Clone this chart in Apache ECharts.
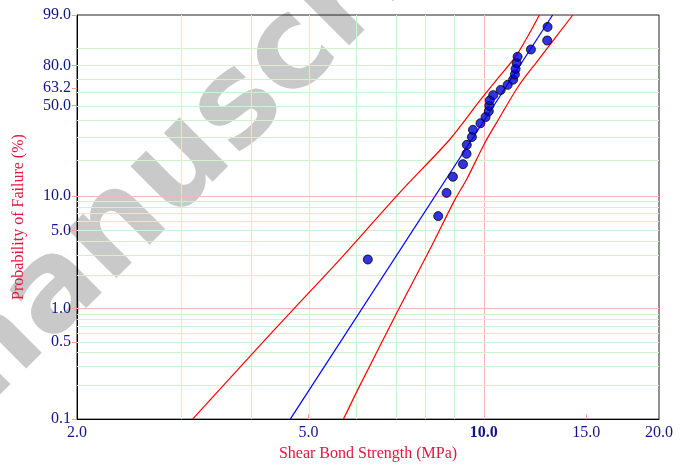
<!DOCTYPE html>
<html>
<head>
<meta charset="utf-8">
<script src="https://cdn.jsdelivr.net/npm/echarts@6/dist/echarts.min.js"></script>
<style>
  html, body { margin: 0; padding: 0; background: #fff; }
  #main { width: 692px; height: 467px; }
</style>
</head>
<body>
<div id="main"></div>
<script>
// shear bond strength (MPa) and median-rank failure probability (%)
const strength = [6.32, 8.35, 8.63, 8.85, 9.21, 9.34, 9.35, 9.54, 9.58, 9.87, 10.07, 10.20, 10.22,
  10.24, 10.38, 10.69, 10.99, 11.23, 11.31, 11.34, 11.39, 11.43, 12.05, 12.85, 12.87]
const failureProb = [2.76, 6.69, 10.63, 14.57, 18.50, 22.44, 26.38, 30.31, 34.25, 38.19, 42.13, 46.06, 50.00,
  53.94, 57.87, 61.81, 65.75, 69.69, 73.62, 77.56, 81.50, 85.43, 89.37, 93.31, 97.24]

// weibull fit and confidence bounds, [MPa, %]
const fitLine = [[4.65, 0.1], [13.13, 99]]
const upperBound = [[3.16, 0.1], [4.00, 0.39], [4.72, 1.0], [5.66, 2.77], [7.17, 10.7], [8.74, 29.0],
  [9.85, 53.9], [10.52, 69.6], [11.39, 86.5], [12.46, 99]]
const lowerBound = [[5.74, 0.1], [6.12, 0.2], [7.15, 1.0], [8.08, 3.4], [8.92, 9.3], [9.34, 13.8],
  [10.04, 27.3], [10.59, 40.4], [11.46, 64.5], [12.41, 83.6], [14.22, 99]]

const xTicks = [2, 5, 10, 15, 20]
const yTicks = [0.1, 0.5, 1, 5, 10, 50, 63.2, 80, 99]
const xGridGreen = [3, 4, 5, 6, 7, 8, 9]
const xGridRed = [10]
const yGridGreen = [0.2, 0.3, 0.4, 0.5, 0.6, 0.7, 0.8, 0.9, 2, 3, 4, 5, 6, 7, 8, 9,
  20, 30, 40, 50, 60, 70, 80, 90]
const yGridRed = [1, 10]

// axis transforms: log10 for x, weibull ln(-ln(1-F)) for y
const tx = v => Math.log10(v)
const ty = p => Math.log(-Math.log(1 - p / 100))
const fromX = v => Math.pow(10, v)
const fromY = w => (1 - Math.exp(-Math.exp(w))) * 100
const pt = ([x, p]) => [tx(x), ty(p)]

const serif = '"Liberation Serif", "Times New Roman", serif'
const green = '#cdf5cd'
const pink = '#ffb4b4'

const gridLines = [
  ...xGridGreen.map(v => ({ xAxis: tx(v), lineStyle: { color: green } })),
  ...xGridRed.map(v => ({ xAxis: tx(v), lineStyle: { color: pink } })),
  ...yGridGreen.map(v => ({ yAxis: ty(v), lineStyle: { color: green } })),
  ...yGridRed.map(v => ({ yAxis: ty(v), lineStyle: { color: pink } }))
]

const chart = echarts.init(document.getElementById('main'))
chart.setOption({
  animation: false,
  graphic: [{
    type: 'text',
    x: 216,
    y: 132,
    rotation: Math.PI / 4,
    z: -1,
    silent: true,
    style: {
      text: 'manuscript',
      font: 'bold 126px "DejaVu Sans", sans-serif',
      fill: '#c9c9c9',
      textAlign: 'center',
      textVerticalAlign: 'middle'
    }
  }],
  grid: {
    left: 77, right: 33, top: 15, bottom: 47,
    show: true, borderColor: '#222', borderWidth: 1, backgroundColor: 'transparent'
  },
  xAxis: {
    type: 'value',
    min: tx(2),
    max: tx(20),
    name: 'Shear Bond Strength (MPa)',
    nameLocation: 'middle',
    nameGap: 25,
    nameTextStyle: { color: '#e0183f', fontFamily: serif, fontSize: 16 },
    axisLine: { onZero: false, lineStyle: { color: '#000' } },
    axisTick: {
      show: true, inside: true, length: 5,
      customValues: [5, 15].map(tx),
      lineStyle: { color: '#ff9a9a' }
    },
    axisLabel: {
      customValues: xTicks.map(tx),
      color: '#14148a',
      fontFamily: serif,
      fontSize: 16,
      margin: 6,
      formatter: v => {
        const s = fromX(v).toFixed(1)
        return s === '10.0' ? '{b|' + s + '}' : s
      },
      rich: { b: { fontWeight: 'bold', color: '#14148a', fontFamily: serif, fontSize: 16 } }
    },
    splitLine: { show: false }
  },
  yAxis: {
    type: 'value',
    min: ty(0.1),
    max: ty(99),
    name: 'Probability of Failure (%)',
    nameLocation: 'middle',
    nameGap: 50,
    nameTextStyle: { color: '#e0183f', fontFamily: serif, fontSize: 16 },
    axisLine: { show: true, onZero: false, lineStyle: { color: '#000' } },
    axisTick: {
      show: true, length: 5,
      customValues: yTicks.map(ty),
      lineStyle: { color: '#ff9a9a' }
    },
    axisLabel: {
      customValues: yTicks.map(ty),
      color: '#14148a',
      fontFamily: serif,
      fontSize: 16,
      margin: 6,
      formatter: v => fromY(v).toFixed(1)
    },
    splitLine: { show: false }
  },
  series: [
    {
      type: 'line',
      data: [],
      z: 1,
      silent: true,
      markLine: {
        z: 1,
        silent: true,
        symbol: 'none',
        animation: false,
        label: { show: false },
        lineStyle: { type: 'solid', width: 1 },
        data: gridLines
      }
    },
    {
      type: 'line',
      data: upperBound.map(pt),
      showSymbol: false,
      smooth: 0.3,
      lineStyle: { color: '#ff0000', width: 1.2 }
    },
    {
      type: 'line',
      data: lowerBound.map(pt),
      showSymbol: false,
      smooth: 0.3,
      lineStyle: { color: '#ff0000', width: 1.2 }
    },
    {
      type: 'line',
      data: fitLine.map(pt),
      showSymbol: false,
      lineStyle: { color: '#0000ff', width: 1.2 }
    },
    {
      type: 'scatter',
      data: strength.map((s, i) => pt([s, failureProb[i]])),
      symbolSize: 9,
      itemStyle: { color: '#0000dd', borderColor: '#000', borderWidth: 1 },
      z: 5
    }
  ]
})
</script>
</body>
</html>
